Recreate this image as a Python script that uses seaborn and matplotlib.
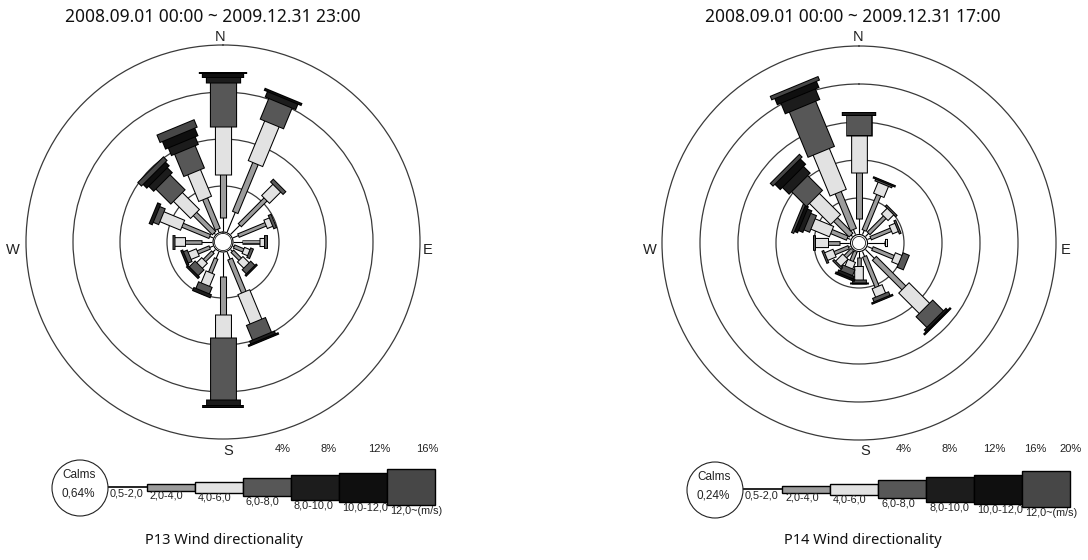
import numpy as np
import matplotlib
matplotlib.use("Agg")
import matplotlib.pyplot as plt
import seaborn as sns
from matplotlib.patches import Circle

sns.set_theme(style="white")
plt.rcParams['font.family'] = ['Noto Sans', 'DejaVu Sans']

W, H = 1088, 560

directions = ['N', 'NNE', 'NE', 'ENE', 'E', 'ESE', 'SE', 'SSE',
              'S', 'SSW', 'SW', 'WSW', 'W', 'WNW', 'NW', 'NNW']
speed_classes = ['0,5-2,0', '2,0-4,0', '4,0-6,0', '6,0-8,0',
                 '8,0-10,0', '10,0-12,0', '12,0~(m/s)']

# frequency (%) per direction, one list per speed class -- P13
p13_s1 = [1.4, 2.0, 1.3, 0.7, 0.9, 0.3, 0.4, 0.85, 2.2, 0.8, 0.5, 0.5, 1.1, 0.5, 0.35, 0.45]
p13_s2 = [3.6, 4.5, 3.1, 2.5, 1.45, 0.85, 0.95, 3.05, 3.25, 1.3, 1.0, 1.1, 1.35, 2.5, 2.3, 2.8]
p13_s3 = [4.1, 3.65, 1.35, 0.5, 0.5, 0.5, 0.75, 2.7, 1.95, 1.1, 0.6, 0.75, 0.95, 1.9, 2.05, 2.45]
p13_s4 = [3.75, 1.9, 0.25, 0.17, 0.13, 0.17, 0.5, 1.35, 5.3, 0.6, 0.7, 0.35, 0.13, 0.5, 1.8, 2.05]
p13_s5 = [0.45, 0.5, 0, 0, 0, 0, 0.05, 0.25, 0.45, 0.2, 0.1, 0.1, 0, 0.2, 0.6, 0.7]
p13_s6 = [0.3, 0.1, 0, 0, 0, 0, 0, 0.05, 0.15, 0, 0, 0, 0, 0, 0.45, 0.7]
p13_s7 = [0.05, 0, 0, 0, 0, 0, 0, 0, 0, 0, 0, 0, 0, 0, 0.35, 0.6]
p13_calms = '0,64%'

# P14
p14_s1 = [1.9, 0.75, 0.75, 0.65, 2.0, 0.85, 1.6, 0.85, 0.85, 0.3, 0.3, 0.5, 1.35, 0.65, 0.5, 0.85]
p14_s2 = [4.85, 4.0, 2.4, 2.3, 0.1, 2.4, 4.4, 3.45, 0.95, 1.05, 1.05, 1.6, 1.15, 1.8, 2.3, 4.2]
p14_s3 = [3.9, 1.25, 0.85, 0.65, 0.1, 0.75, 3.05, 0.95, 1.35, 0.75, 1.05, 0.95, 1.35, 2.1, 3.15, 4.65]
p14_s4 = [2.1, 0.2, 0.1, 0.1, 0, 0.6, 1.6, 0.4, 0.3, 0.65, 0.1, 0.1, 0.1, 0.65, 2.2, 5.15]
p14_s5 = [0.2, 0.05, 0, 0, 0, 0, 0.25, 0.05, 0.05, 0.3, 0, 0, 0, 0.5, 1.0, 1.2]
p14_s6 = [0, 0, 0, 0, 0, 0, 0.05, 0, 0, 0.1, 0, 0, 0, 0.35, 0.8, 0.7]
p14_s7 = [0, 0, 0, 0, 0, 0, 0, 0, 0, 0, 0, 0, 0, 0.15, 0.3, 0.3]
p14_calms = '0,24%'

p13_period = '2008.09.01 00:00 ~ 2009.12.31 23:00'
p14_period = '2008.09.01 00:00 ~ 2009.12.31 17:00'
p13_caption = 'P13 Wind directionality'
p14_caption = 'P14 Wind directionality'
p13_rings = [4, 8, 12, 16]
p14_rings = [4, 8, 12, 16, 20]

shades = ['#000000', '#9c9c9c', '#e2e2e2', '#575757', '#1c1c1c', '#0f0f0f', '#474747']
petal_px = [1, 5, 15, 25, 33, 40, 46]     # petal thickness per class for a ~13.5 % petal
key_px = [1, 7, 11, 18, 25, 29, 36]       # legend bar thickness per class
key_w = 48

fig = plt.figure(figsize=(W / 100, H / 100), dpi=100)
fig.patch.set_facecolor('white')

# overlay in pixel units for texts and legend
ov = fig.add_axes([0, 0, 1, 1])
ov.set_xlim(0, W)
ov.set_ylim(H, 0)
ov.axis('off')

small = dict(family=['Liberation Sans', 'DejaVu Sans'], color='#222222')


def add_rose(cx, cy, ring_px, hole_px, circle_px, rings, rows):
    scale = ring_px / (rings[1] - rings[0])
    rmax = rings[-1] + 0.3
    rorigin = -hole_px / scale
    R = (rmax - rorigin) * scale
    ax = fig.add_axes([(cx - R) / W, (H - cy - R) / H, 2 * R / W, 2 * R / H],
                      projection='polar')
    ax.set_theta_zero_location('N')
    ax.set_theta_direction(-1)
    ax.set_ylim(0, rmax)
    ax.set_rorigin(rorigin)
    ax.set_xticks([])
    ax.set_yticks(rings)
    ax.set_yticklabels([])
    ax.grid(True, axis='y', color='#3a3a3a', lw=0.9)
    ax.spines['polar'].set_visible(False)
    ax.patch.set_alpha(0)

    thetas = np.deg2rad(np.arange(len(directions)) * 22.5)
    dr = 1.0 / scale
    data = np.array(rows)
    for i, th in enumerate(thetas):
        edges = np.concatenate([[0], np.cumsum(data[:, i])])
        f = min(1.1, np.sqrt(edges[-1] / 13.5))
        for k in range(len(speed_classes)):
            r0, r1 = edges[k], edges[k + 1]
            if r1 <= r0:
                continue
            if k == 0:
                ax.plot([th, th], [r0, r1], color='black', lw=0.8,
                        solid_capstyle='butt', zorder=3)
                continue
            w = max(2.5, petal_px[k] * f) * 0.72
            ax.plot([th, th], [r0 - dr, r1 + dr], color='black', lw=w + 1.5,
                    solid_capstyle='butt', zorder=3)
            ax.plot([th, th], [r0, r1], color=shades[k], lw=w,
                    solid_capstyle='butt', zorder=3)

    t = np.linspace(0, 2 * np.pi, 120)
    rc = np.full_like(t, (circle_px - hole_px) / scale)
    ax.fill(t, rc, color='white', zorder=5)
    ax.plot(t, rc, color='black', lw=0.8, zorder=6)
    return ax


def add_key(x0, yc, calm_cx, calms):
    for k, (lab, h, c) in enumerate(zip(speed_classes, key_px, shades)):
        left = x0 + k * key_w
        if k == 0:
            ov.plot([calm_cx, left + key_w], [yc, yc], color='black', lw=1.2, zorder=2)
            tx = calm_cx + 30
        else:
            ov.bar(left, h, width=key_w, bottom=yc - h / 2, align='edge',
                   color=c, edgecolor='black', lw=1, zorder=2)
            tx = left + 3
        ov.text(tx, yc + h / 2 + 0.5, lab, ha='left', va='top', fontsize=7.8,
                zorder=20 - k, **small)
    ov.add_patch(Circle((calm_cx, yc + 1), 28, fc='white', ec='#222222', lw=0.8, zorder=5))
    ov.text(calm_cx - 1, yc - 12, 'Calms', ha='center', va='center', fontsize=8.5, zorder=6, **small)
    ov.text(calm_cx - 2, yc + 6, calms, ha='center', va='center', fontsize=8.5, zorder=6, **small)


p13_rows = [p13_s1, p13_s2, p13_s3, p13_s4, p13_s5, p13_s6, p13_s7]
p14_rows = [p14_s1, p14_s2, p14_s3, p14_s4, p14_s5, p14_s6, p14_s7]

add_rose(223, 242, 47, 9, 10, p13_rings, p13_rows)
add_rose(859, 243, 38, 7, 8.5, p14_rings, p14_rows)

add_key(99, 487, 80, p13_calms)
add_key(734, 489, 715, p14_calms)

# compass letters
for (x, y, s) in [(220, 37, 'N'), (13, 250, 'W'), (428, 250, 'E'), (228, 451, 'S'),
                  (858, 37, 'N'), (650, 250, 'W'), (1066, 250, 'E'), (865, 451, 'S')]:
    ov.text(x, y, s, ha='center', va='center', fontsize=10.5, **small)

# ring scale labels
for x, v in zip([283, 329, 379, 427], p13_rings):
    ov.text(x, 449, f'{v}%', ha='center', va='center', fontsize=8, **small)
for x, v in zip([904, 950, 994, 1035, 1071], p14_rings):
    ov.text(x, 449, f'{v}%', ha='center', va='center', fontsize=8, **small)

ov.text(213, 17, p13_period, ha='center', va='center', fontsize=12.5, color='#111111')
ov.text(853, 17, p14_period, ha='center', va='center', fontsize=12.5, color='#111111')
ov.text(224, 541, p13_caption, ha='center', va='center', fontsize=10.5, color='#111111')
ov.text(863, 541, p14_caption, ha='center', va='center', fontsize=10.5, color='#111111')

fig.savefig('out.png', dpi=100, facecolor='white')
